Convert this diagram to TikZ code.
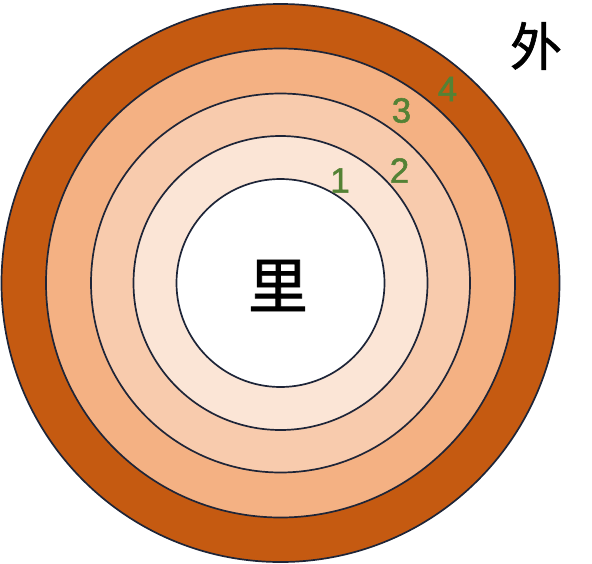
\documentclass[tikz,border=0pt]{standalone}
\usepackage{fontspec}
\setmainfont{Liberation Sans}
\newfontfamily\cjk[FakeBold=1.2]{Noto Sans CJK SC}
\newfontfamily\digitfont[FakeBold=1.5]{Liberation Sans}
\definecolor{ringA}{HTML}{C55A11}
\definecolor{ringB}{HTML}{F4B183}
\definecolor{ringC}{HTML}{F8CBAD}
\definecolor{ringD}{HTML}{FBE5D6}
\definecolor{edgecol}{HTML}{1E2538}
\definecolor{numgreen}{HTML}{548235}
\tikzset{
  ring/.style={draw=edgecol, line width=1.7pt},
  numlabel/.style={text=numgreen, inner sep=0pt, font=\digitfont\fontsize{35}{35}\selectfont},
  bigchar/.style={inner sep=0pt, text=black}
}
\begin{document}
\begin{tikzpicture}[x=1pt,y=-1pt]
\useasboundingbox (0,0) rectangle (592,563);
\coordinate (c) at (280.5,283);
\draw[ring, fill=ringA] (c) circle[radius=279];
\draw[ring, fill=ringB] (c) circle[radius=234.5];
\draw[ring, fill=ringC] (c) circle[radius=189.5];
\draw[ring, fill=ringD] (c) circle[radius=147];
\draw[ring, fill=white] (c) circle[radius=104];
\node[bigchar, font=\cjk\fontsize{60}{60}\selectfont] (li) at (278,285.5) {里};
\node[bigchar, font=\cjk\fontsize{52}{52}\selectfont] (wai) at (536,46) {外};
\node[numlabel] (n1) at (340,180.5) {1};
\node[numlabel] (n2) at (399.5,170.5) {2};
\node[numlabel] (n3) at (401.5,110.5) {3};
\node[numlabel] (n4) at (447.5,89) {4};
\end{tikzpicture}
\end{document}
